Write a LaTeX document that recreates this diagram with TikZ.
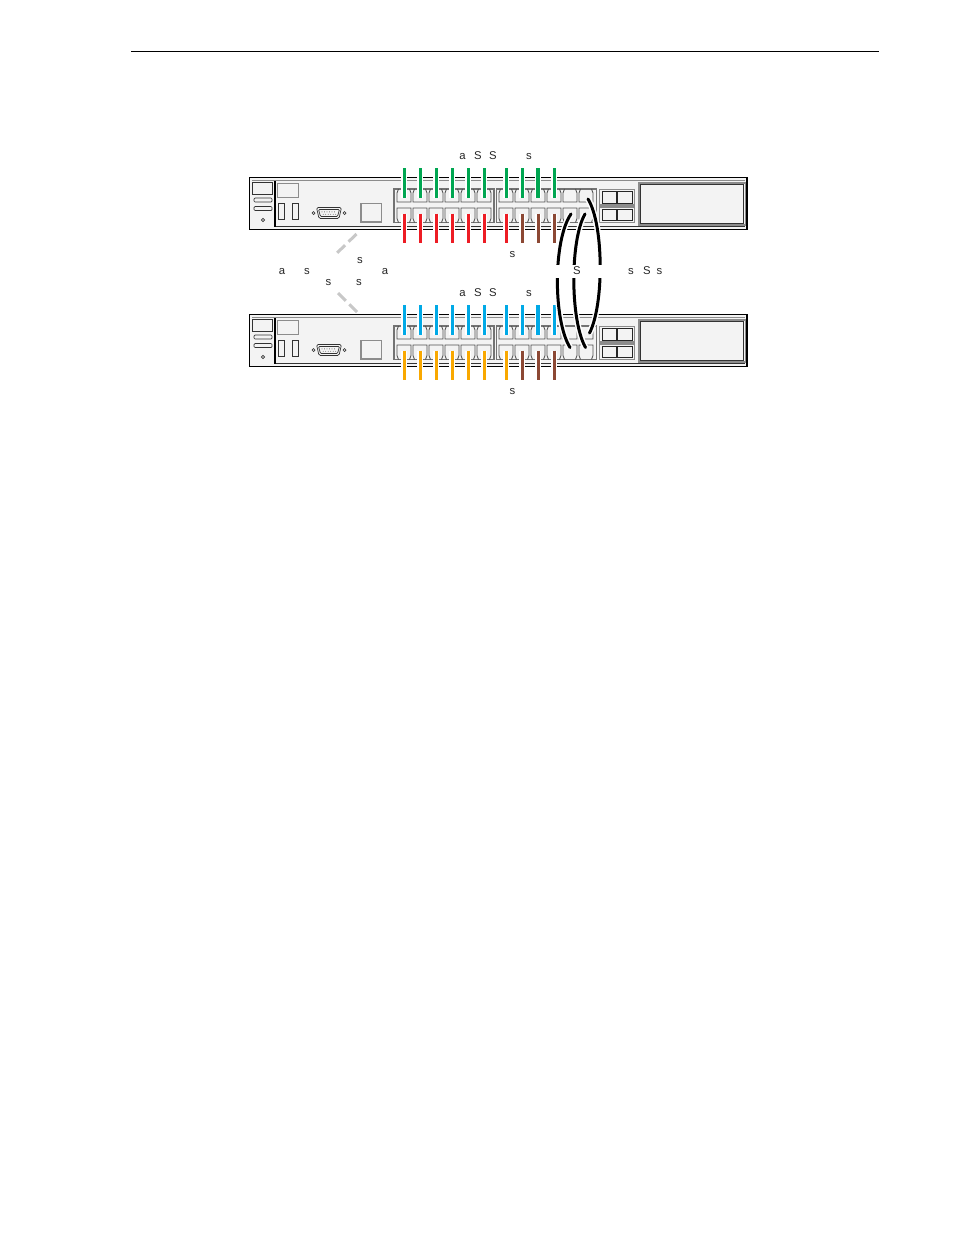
\documentclass[tikz,border=0pt]{standalone}
\usepackage{fontspec}
\setmainfont{Liberation Sans}
\definecolor{cgreen}{RGB}{0,166,81}
\definecolor{cred}{RGB}{237,28,36}
\definecolor{cbrown}{RGB}{140,72,52}
\definecolor{cblue}{RGB}{0,169,230}
\definecolor{corange}{RGB}{249,168,0}
\definecolor{bodyfill}{RGB}{243,243,243}
\definecolor{dashgray}{RGB}{200,200,200}
\definecolor{portgray}{RGB}{80,80,80}
\begin{document}
\begin{tikzpicture}[x=1pt,y=-1pt,
  headrule/.style={line width=1.3pt, draw=black},
  swbody/.style={rectangle, draw=black, line width=1.9pt, fill=bodyfill, minimum width=497.5pt, minimum height=52pt, inner sep=0pt},
  thinline/.style={line width=0.7pt, draw=black!80},
  grayline/.style={line width=1.2pt, draw=black!45},
  blockline/.style={line width=1.1pt, draw=black!55},
  portline/.style={line width=0.85pt, draw=portgray},
  cable/.style={line width=3pt, preaction={draw=white, line width=5.5pt}},
  loopcable/.style={line width=3pt, draw=black, line cap=round, preaction={draw=white, line width=6pt}},
  dashlink/.style={draw=dashgray, line width=3pt, dash pattern=on 11pt off 5pt},
  lbl/.style={font=\fontsize{11.3}{13}\selectfont, inner sep=0pt, anchor=base, text=black!85}
]
\useasboundingbox (0,0) rectangle (954,1235);
\fill[white] (0,0) rectangle (954,1235);

% header rule
\coordinate (hl) at (131,51.5);
\coordinate (hr) at (879,51.5);
\draw[headrule] (hl) -- (hr);

% the two switches
\foreach \dy [count=\s] in {0,137} {
  \node[swbody] (sw\s) at (498.25,203.5+\dy) {};
  \begin{scope}[shift={(0,\dy)}]
    \draw[grayline, line width=0.8pt] (252,180.5) -- (744.5,180.5);
    \draw[thinline] (275,226.5) -- (744.5,226.5);
    \draw[draw=black, line width=1.1pt] (275,181) -- (275,226.5);
    % left compartment
    \draw[thinline] (252.5,182.5) rectangle (272.5,194.5);
    \draw[thinline, rounded corners=1pt] (254,198) rectangle (272,202);
    \draw[thinline, rounded corners=1pt] (254,206.5) rectangle (272,210.5);
    \draw[thinline] (263,220) circle[radius=1.7];
    % gray box and slots
    \draw[grayline, line width=1.3pt] (277.5,183.5) rectangle (298.5,197.5);
    \draw[thinline] (278.5,203.5) rectangle (284,219);
    \draw[thinline] (292.5,203.5) rectangle (298,219);
    % VGA connector
    \draw[thinline, rounded corners=1.5pt] (316.5,207.5) -- (341.5,207.5) -- (339,218.5) -- (319,218.5) -- cycle;
    \draw[thinline, rounded corners=1pt] (318.5,209.5) -- (339.5,209.5) -- (337.5,216.5) -- (320.5,216.5) -- cycle;
    \foreach \px in {322,324.5,...,336.5} \fill[black!70] (\px,211.9) circle[radius=0.45];
    \foreach \px in {323.2,325.7,...,335.8} \fill[black!70] (\px,214.3) circle[radius=0.45];
    \draw[thinline] (313.5,213) circle[radius=1.5];
    \draw[thinline] (344.5,213) circle[radius=1.5];
    % square
    \draw[grayline, line width=1.1pt] (361,203.5) rectangle (381.5,222);
    % port blocks
    \draw[blockline] (394,189) rectangle (494,222.5);
    \draw[blockline] (496.5,189) rectangle (596.5,222.5);
    \foreach \xl in {396,412,428,444,460,476,498,514,530,546,562,578} {
      \draw[portline] (\xl+2.5,189) -- (\xl+1,193) -- (\xl+1,202) -- (\xl+15,202) -- (\xl+15,193) -- (\xl+13.5,189);
      \draw[portline] (\xl+2.5,222.5) -- (\xl+1,218.5) -- (\xl+1,208) -- (\xl+15,208) -- (\xl+15,218.5) -- (\xl+13.5,222.5);
    }
    % SFP cages
    \foreach \yy in {189.5,207} {
      \draw[grayline, line width=1.4pt, fill=bodyfill] (599.5,\yy) rectangle (634.5,\yy+15.5);
      \draw[thinline, draw=black!85] (602,\yy+2) rectangle (616.3,\yy+13.5);
      \draw[thinline, draw=black!85] (617.7,\yy+2) rectangle (632,\yy+13.5);
    }
    % right panel
    \draw[grayline, line width=1.4pt, fill=bodyfill] (639,183) rectangle (745.5,225);
    \draw[thinline, draw=black!80] (640.8,184.6) rectangle (743.7,223.4);
  \end{scope}
}

% upper-row cables (green on top switch, blue on bottom switch)
\foreach \x/\w [count=\i] in {404/3,420/3,436/3,452/3,468/3,484/3,506/3,522/3,538/3.8,554/3} {
  \coordinate (ga\i) at (\x,168);
  \coordinate (gb\i) at (\x,197.5);
  \draw[cable, draw=cgreen, line width=\w pt] (ga\i) -- (gb\i);
  \coordinate (ba\i) at (\x,305);
  \coordinate (bb\i) at (\x,334.5);
  \draw[cable, draw=cblue, line width=\w pt] (ba\i) -- (bb\i);
}
% lower-row cables (red/brown on top switch, orange/brown on bottom switch)
\foreach \x/\c [count=\i] in {404/cred,420/cred,436/cred,452/cred,468/cred,484/cred,506/cred,522/cbrown,538/cbrown,554/cbrown} {
  \coordinate (ra\i) at (\x,213.5);
  \coordinate (rb\i) at (\x,243);
  \draw[cable, draw=\c] (ra\i) -- (rb\i);
}
\foreach \x/\c [count=\i] in {404/corange,420/corange,436/corange,452/corange,468/corange,484/corange,506/corange,522/cbrown,538/cbrown,554/cbrown} {
  \coordinate (oa\i) at (\x,350.5);
  \coordinate (ob\i) at (\x,380);
  \draw[cable, draw=\c] (oa\i) -- (ob\i);
}

% stacking cables between the switches
\coordinate (k1a) at (571,214);
\coordinate (k1b) at (570,347.5);
\coordinate (k2a) at (585,214);
\coordinate (k2b) at (585.5,347.5);
\coordinate (k3a) at (588,199);
\coordinate (k3b) at (589.5,333);
\draw[loopcable] (k1a) .. controls (553,240) and (553,320) .. (k1b);
\draw[loopcable] (k2a) .. controls (570,240) and (570,320) .. (k2b);
\draw[loopcable] (k3a) .. controls (604,225) and (604,305) .. (k3b);
\fill[white] (553,264.5) rectangle (606,277.5);

% dashed gray links
\coordinate (d1a) at (356.5,234);
\coordinate (d1b) at (336.5,253.5);
\draw[dashlink] (d1a) -- (d1b);
\coordinate (d2a) at (338,293);
\coordinate (d2b) at (357.5,312.5);
\draw[dashlink] (d2a) -- (d2b);

% labels
\node[lbl] (t1) at (462.5,159.5) {a};
\node[lbl] (t2) at (478,159.5) {S};
\node[lbl] (t3) at (493,159.5) {S};
\node[lbl] (t4) at (529,159.5) {s};
\node[lbl] (t5) at (512.5,257) {s};
\node[lbl] (t6) at (360,263.7) {s};
\node[lbl] (t7) at (282,274.7) {a};
\node[lbl] (t8) at (307,274.7) {s};
\node[lbl] (t9) at (385,274.7) {a};
\node[lbl] (t10) at (577,274.2) {S};
\node[lbl] (t11) at (631,274.2) {s};
\node[lbl] (t12) at (647,274.2) {S};
\node[lbl] (t13) at (659.5,274.2) {s};
\node[lbl] (t14) at (328.5,285.7) {s};
\node[lbl] (t15) at (359,285.7) {s};
\node[lbl] (t16) at (462.5,296.5) {a};
\node[lbl] (t17) at (478,296.5) {S};
\node[lbl] (t18) at (493,296.5) {S};
\node[lbl] (t19) at (529,296.5) {s};
\node[lbl] (t20) at (512.5,394) {s};
\end{tikzpicture}
\end{document}
